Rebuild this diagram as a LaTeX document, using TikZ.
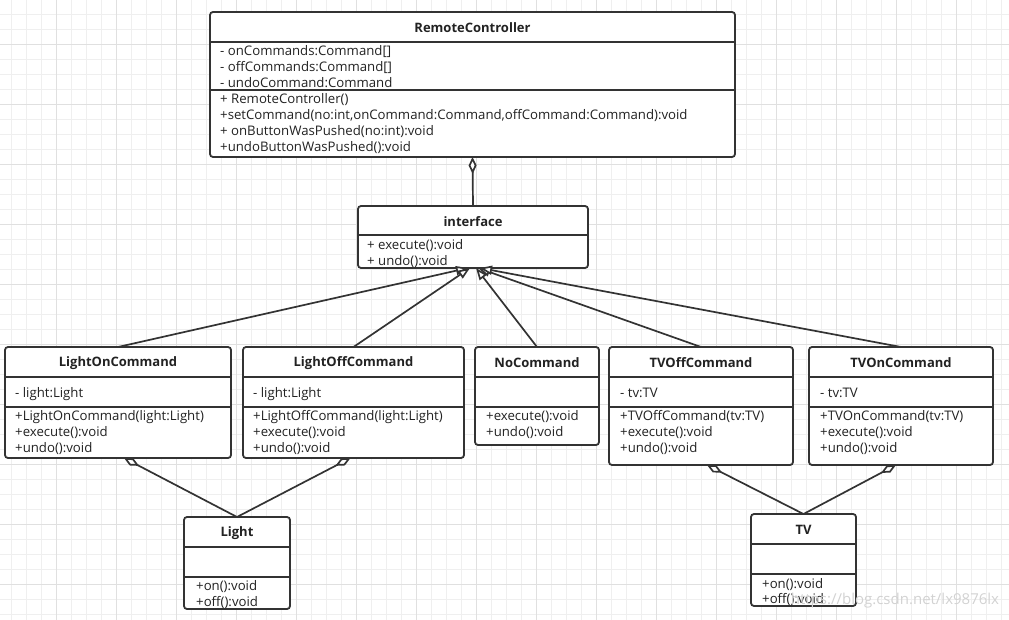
\documentclass[tikz,border=0pt]{standalone}
\usepackage{fontspec}
\setmainfont{Open Sans}
\usetikzlibrary{arrows.meta}

\definecolor{umlline}{HTML}{333333}
\definecolor{umltext}{HTML}{222222}
\definecolor{gridminor}{HTML}{EFEFEF}
\definecolor{gridmajor}{HTML}{E0E0E0}

\tikzset{
  box/.style={draw=umlline, line width=1.8pt, rounded corners=3pt, fill=white,
    inner sep=0pt, outer sep=0pt, anchor=north west},
  title/.style={font=\fontsize{13}{15}\selectfont\bfseries, text=umltext, inner sep=0pt, yshift=-1pt},
  row/.style={font=\fontsize{13.2}{15}\selectfont, text=umltext, anchor=west, inner sep=0pt,
    text height=9pt, text depth=3pt, yshift=-2.5pt},
  sep/.style={draw=umlline, line width=1.8pt},
  gen/.style={draw=umlline, line width=1.7pt, -{Triangle[fill=white, length=12pt, width=9pt]}},
  agg/.style={draw=umlline, line width=1.7pt, -{Diamond[fill=white, length=17pt, width=8pt]}},
}

\begin{document}
\begin{tikzpicture}[x=1pt, y=-1pt]
  % grid setup
  \def\xmax{1009}
  \def\ymax{620}
  \useasboundingbox (0,0) rectangle (\xmax,\ymax);

  % grid
  \begin{scope}[shift={(11.5,14)}]
    \draw[step=15pt, gridminor, line width=0.8pt] (-15,-15) grid (1000,610);
  \end{scope}
  \begin{scope}[shift={(56.5,44)}]
    \draw[step=60pt, gridmajor, line width=0.8pt] (-60,-60) grid (960,580);
  \end{scope}

  % RemoteController
  \node[box, minimum width=525pt, minimum height=145pt] (rc) at (210,12) {};
  \node[title] (rc-t) at ([yshift=-15pt]rc.north) {RemoteController};
  \draw[sep] ([yshift=-30pt]rc.north west) -- ([yshift=-30pt]rc.north east);
  \draw[sep] ([yshift=-78pt]rc.north west) -- ([yshift=-78pt]rc.north east);
  \node[row] (rc-a1) at (220,50)  {- onCommands:Command[]};
  \node[row] (rc-a2) at (220,66)  {- offCommands:Command[]};
  \node[row] (rc-a3) at (220,82)  {- undoCommand:Command};
  \node[row] (rc-m1) at (220,98)  {+ RemoteController()};
  \node[row] (rc-m2) at (220,114) {+setCommand(no:int,onCommand:Command,offCommand:Command):void};
  \node[row] (rc-m3) at (220,130) {+ onButtonWasPushed(no:int):void};
  \node[row] (rc-m4) at (220,146) {+undoButtonWasPushed():void};

  % interface
  \node[box, minimum width=230pt, minimum height=62pt] (itf) at (358,206) {};
  \node[title] (itf-t) at ([yshift=-15pt]itf.north) {interface};
  \draw[sep] ([yshift=-29pt]itf.north west) -- ([yshift=-29pt]itf.north east);
  \node[row] (itf-m1) at (367,244) {+ execute():void};
  \node[row] (itf-m2) at (367,260) {+ undo():void};

  % LightOnCommand
  \node[box, minimum width=226pt, minimum height=111pt] (lon) at (5,347) {};
  \node[title] (lon-t) at ([yshift=-15pt]lon.north) {LightOnCommand};
  \draw[sep] ([yshift=-30pt]lon.north west) -- ([yshift=-30pt]lon.north east);
  \draw[sep] ([yshift=-60pt]lon.north west) -- ([yshift=-60pt]lon.north east);
  \node[row] (lon-a1) at (15,392) {- light:Light};
  \node[row] (lon-m1) at (15,415) {+LightOnCommand(light:Light)};
  \node[row] (lon-m2) at (15,431) {+execute():void};
  \node[row] (lon-m3) at (15,447) {+undo():void};

  % LightOffCommand
  \node[box, minimum width=221pt, minimum height=111pt] (loff) at (243,347) {};
  \node[title] (loff-t) at ([yshift=-15pt]loff.north) {LightOffCommand};
  \draw[sep] ([yshift=-30pt]loff.north west) -- ([yshift=-30pt]loff.north east);
  \draw[sep] ([yshift=-60pt]loff.north west) -- ([yshift=-60pt]loff.north east);
  \node[row] (loff-a1) at (253,392) {- light:Light};
  \node[row] (loff-m1) at (253,415) {+LightOffCommand(light:Light)};
  \node[row] (loff-m2) at (253,431) {+execute():void};
  \node[row] (loff-m3) at (253,447) {+undo():void};

  % NoCommand
  \node[box, minimum width=124pt, minimum height=98pt] (noc) at (475,347) {};
  \node[title] (noc-t) at ([yshift=-15pt]noc.north) {NoCommand};
  \draw[sep] ([yshift=-30pt]noc.north west) -- ([yshift=-30pt]noc.north east);
  \draw[sep] ([yshift=-60pt]noc.north west) -- ([yshift=-60pt]noc.north east);
  \node[row] (noc-m1) at (486,415) {+execute():void};
  \node[row] (noc-m2) at (486,431) {+undo():void};

  % TVOffCommand
  \node[box, minimum width=184pt, minimum height=118pt] (tvoff) at (609,347) {};
  \node[title] (tvoff-t) at ([yshift=-15pt]tvoff.north) {TVOffCommand};
  \draw[sep] ([yshift=-30pt]tvoff.north west) -- ([yshift=-30pt]tvoff.north east);
  \draw[sep] ([yshift=-60pt]tvoff.north west) -- ([yshift=-60pt]tvoff.north east);
  \node[row] (tvoff-a1) at (620,392) {- tv:TV};
  \node[row] (tvoff-m1) at (620,415) {+TVOffCommand(tv:TV)};
  \node[row] (tvoff-m2) at (620,431) {+execute():void};
  \node[row] (tvoff-m3) at (620,447) {+undo():void};

  % TVOnCommand
  \node[box, minimum width=184pt, minimum height=118pt] (tvon) at (809,347) {};
  \node[title] (tvon-t) at ([yshift=-15pt]tvon.north) {TVOnCommand};
  \draw[sep] ([yshift=-30pt]tvon.north west) -- ([yshift=-30pt]tvon.north east);
  \draw[sep] ([yshift=-60pt]tvon.north west) -- ([yshift=-60pt]tvon.north east);
  \node[row] (tvon-a1) at (820,392) {- tv:TV};
  \node[row] (tvon-m1) at (820,415) {+TVOnCommand(tv:TV)};
  \node[row] (tvon-m2) at (820,431) {+execute():void};
  \node[row] (tvon-m3) at (820,447) {+undo():void};

  % Light
  \node[box, minimum width=106pt, minimum height=92pt] (light) at (184,517) {};
  \node[title] (light-t) at ([yshift=-15pt]light.north) {Light};
  \draw[sep] ([yshift=-30pt]light.north west) -- ([yshift=-30pt]light.north east);
  \draw[sep] ([yshift=-60pt]light.north west) -- ([yshift=-60pt]light.north east);
  \node[row] (light-m1) at (196,585) {+on():void};
  \node[row] (light-m2) at (196,601) {+off():void};

  % TV
  \node[box, minimum width=105pt, minimum height=92pt] (tv) at (751,514) {};
  \node[title] (tv-t) at ([yshift=-15pt]tv.north) {TV};
  \draw[sep] ([yshift=-30pt]tv.north west) -- ([yshift=-30pt]tv.north east);
  \draw[sep] ([yshift=-60pt]tv.north west) -- ([yshift=-60pt]tv.north east);
  \node[row] (tv-m1) at (762,583) {+on():void};
  \node[row] (tv-m2) at (762,598) {+off():void};

  % connectors
  \draw[agg] (itf.north) -- (rc.south);
  \draw[gen] (lon.north)   -- ([xshift=-5pt]itf.south);
  \draw[gen] (loff.north)  -- ([xshift=-3pt]itf.south);
  \draw[gen] (noc.north)   -- ([xshift=3pt]itf.south);
  \draw[gen] (tvoff.north) -- ([xshift=5pt]itf.south);
  \draw[gen] (tvon.north)  -- ([xshift=7pt]itf.south);
  \draw[agg] (light.north) -- ([xshift=6pt]lon.south);
  \draw[agg] (light.north) -- ([xshift=-3pt]loff.south);
  \draw[agg] (tv.north)    -- ([xshift=6pt]tvoff.south);
  \draw[agg] (tv.north)    -- ([xshift=-5pt]tvon.south);

  % watermark
  \node[font=\fontsize{15}{17}\selectfont, text=gray!35, inner sep=0pt] (wm) at (895,601) {https://blog.csdn.net/lx9876lx};
\end{tikzpicture}
\end{document}
